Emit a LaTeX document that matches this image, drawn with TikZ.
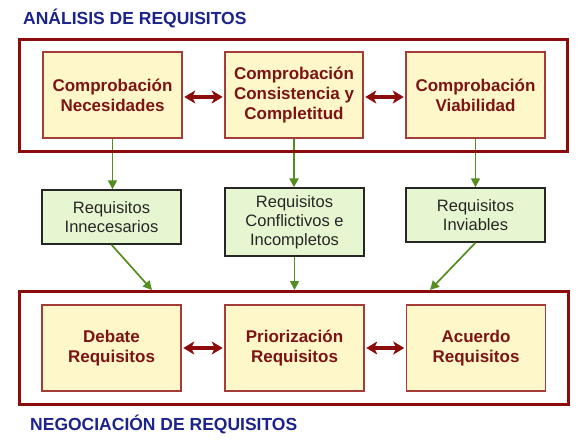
\documentclass[tikz,border=0pt]{standalone}
\usepackage{fontspec}
\setmainfont{Liberation Sans}
\usetikzlibrary{arrows.meta,backgrounds}
\definecolor{framered}{RGB}{140,12,12}
\definecolor{boxred}{RGB}{165,60,55}
\definecolor{boxfill}{RGB}{253,247,202}
\definecolor{txtred}{RGB}{125,20,20}
\definecolor{grfill}{RGB}{230,246,208}
\definecolor{grarrow}{RGB}{84,142,32}
\definecolor{titleblue}{RGB}{28,36,140}
\tikzset{
  frame/.style={draw=framered, line width=3.4pt, inner sep=0pt},
  topbox/.style={draw=boxred, line width=1.5pt, fill=boxfill, text=txtred,
    minimum width=139pt, minimum height=86pt, inner sep=0pt, align=center,
    font=\fontsize{17}{20}\selectfont\bfseries},
  midbox/.style={draw=black!85, line width=1.4pt, fill=grfill, text=black!85,
    minimum width=139pt, inner sep=0pt, align=center,
    font=\fontsize{16.5}{19}\selectfont},
  dbl/.style={{Stealth[length=11pt,width=13pt,inset=3pt]}-{Stealth[length=11pt,width=13pt,inset=3pt]},
    draw=framered, line width=3.6pt, shorten <=1.5pt, shorten >=1.5pt},
  garrow/.style={-{Triangle[length=9pt,width=9pt]}, draw=grarrow, line width=1.7pt},
  title/.style={text=titleblue, font=\fontsize{17.5}{20}\selectfont\bfseries, inner sep=0pt, anchor=west}
}
\begin{document}
\begin{tikzpicture}[x=1pt,y=-1pt]
\useasboundingbox (0,0) rectangle (582,440);
% titles
\node[title] (ta) at (23,18) {ANÁLISIS DE REQUISITOS};
\node[title] (tn) at (30,424) {NEGOCIACIÓN DE REQUISITOS};
% frames
\node[frame, minimum width=547.6pt, minimum height=111.6pt] (A) at (293.5,95.5) {};
\node[frame, minimum width=548.6pt, minimum height=112.6pt] (B) at (294,348) {};
% top boxes
\node[topbox] (t1) at (112.5,95) {Comprobación\\Necesidades};
\node[topbox, minimum width=138pt] (t2) at (294,95) {Comprobación\\Consistencia y\\Completitud};
\node[topbox] (t3) at (475.5,95) {Comprobación\\Viabilidad};
% middle boxes
\node[midbox, minimum height=54pt] (m1) at (111.5,217) {Requisitos\\Innecesarios};
\node[midbox, minimum height=68pt] (m2) at (294.5,222) {Requisitos\\Conflictivos e\\Incompletos};
\node[midbox, minimum height=54pt] (m3) at (475.5,215) {Requisitos\\Inviables};
% bottom boxes
\node[topbox] (b1) at (111.5,348) {Debate\\Requisitos};
\node[topbox] (b2) at (294.5,348) {Priorización\\Requisitos};
\node[topbox] (b3) at (476,348) {Acuerdo\\Requisitos};
% arrow targets on lower frame
\coordinate (f1) at (152,290);
\coordinate (f2) at (294.5,290);
\coordinate (f3) at (430,290);
% double arrows
\draw[dbl] ([yshift=-2pt]t1.east) -- ([yshift=-2pt]t2.west);
\draw[dbl] ([yshift=-2pt]t2.east) -- ([yshift=-2pt]t3.west);
\draw[dbl] (b1.east) -- (b2.west);
\draw[dbl] (b2.east) -- (b3.west);
% green arrows (behind the frame)
\begin{scope}[on background layer]
\fill[white] (0,0) rectangle (582,440);
\draw[garrow] (t1.south) -- (t1.south |- m1.north);
\draw[garrow, line width=2.8pt] (t2.south) -- (t2.south |- m2.north);
\draw[garrow] (t3.south) -- (t3.south |- m3.north);
\end{scope}
\draw[garrow] (m1.south) -- (f1);
\draw[garrow] (m2.south) -- (f2);
\draw[garrow] (m3.south) -- (f3);
\end{tikzpicture}
\end{document}
